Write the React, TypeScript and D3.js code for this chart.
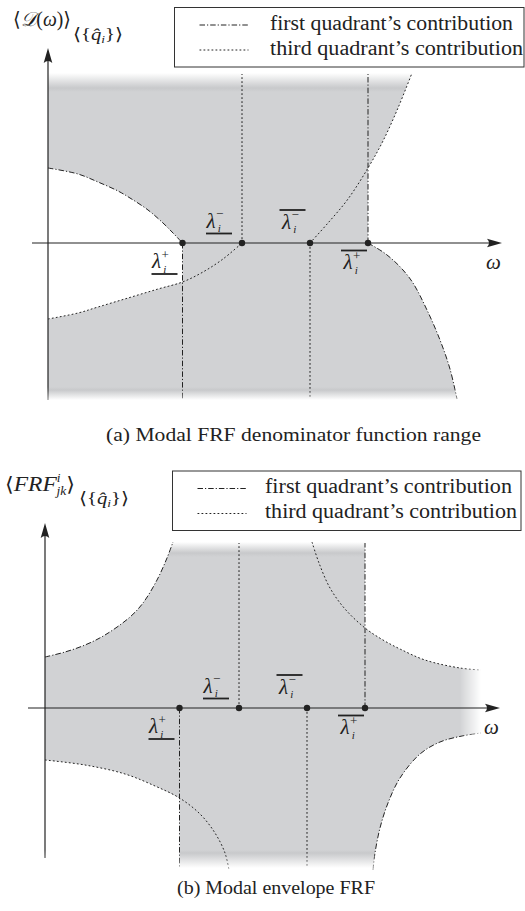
import React from 'react';
import * as d3 from 'd3';

type Pt = [number, number];

const W = 525;
const H = 911;
const UNIT = 10; // pixels per unit on both axes

const GRAY = '#d1d2d4';
const GRAY_EDGE = '#c8c9cb';
const INK = '#222222';
const DASH_DOT = '5.5,2,1.2,2';
const DOTTED = '1.8,2.2';
const TEXT_FONT = "'Liberation Serif', 'DejaVu Serif', serif";
const MATH_FONT = "'Liberation Serif', 'DejaVu Serif', 'DejaVu Sans', serif";
const BRACKET_FONT = "'DejaVu Sans', 'DejaVu Serif', serif";

// Bound eigenvalues on the ω axis: λ_i^+, λ_i^-, overline λ_i^-, overline λ_i^+
const lambdaOmega = [13.45, 19.4, 26.2, 32.0];
const lambdaSigns = ['+', '−', '−', '+'];
const lambdaBars: ('under' | 'over')[] = ['under', 'under', 'over', 'over'];
// vertical bound through each eigenvalue: direction and line type
const lambdaDirs: ('up' | 'down')[] = ['down', 'up', 'down', 'up'];
const lambdaStyles: ('dashDot' | 'dotted')[] = ['dashDot', 'dotted', 'dotted', 'dashDot'];

const legendLabels = ['first quadrant’s contribution', 'third quadrant’s contribution'];
const captions = ['(a) Modal FRF denominator function range', '(b) Modal envelope FRF'];

// (a) denominator range: first quadrant (dash-dot) boundaries
const denomFirstUpper: Pt[] = [[0, 7.5], [3, 6.9], [5, 6.1], [7, 5.2], [8.2, 4.5], [10, 3.3], [11.5, 2.0], [12.5, 1.0], [13.45, 0]];
const denomFirstLower: Pt[] = [[32, 0], [33.5, -0.9], [34.5, -1.7], [35.5, -2.7], [36.5, -4.0], [37.9, -6.7], [39.2, -9.7], [40.2, -12.6], [40.9, -15.6]];
// (a) third quadrant (dotted) boundaries, split where they cross the vertical bounds
const denomThirdLowerA: Pt[] = [[0, -7.6], [3, -7.0], [5, -6.4], [8, -5.5], [11, -4.6], [13.45, -3.9]];
const denomThirdLowerB: Pt[] = [[13.45, -3.9], [15.5, -2.9], [17.5, -1.6], [19.4, 0]];
const denomThirdUpperA: Pt[] = [[26.2, 0], [28, 2.0], [30, 4.4], [32, 7.5]];
const denomThirdUpperB: Pt[] = [[32, 7.5], [33.5, 10.2], [35, 13.5], [36.4, 17.0]];

// (b) envelope FRF: first quadrant (dash-dot) boundaries
const frfFirstUpper: Pt[] = [[0, 5.1], [2, 5.6], [4, 6.3], [6, 7.3], [8.5, 9.1], [9.8, 10.5], [11.2, 12.8], [12.2, 15.0], [12.8, 16.6]];
const frfFirstLower: Pt[] = [[32.8, -16.2], [33.0, -14.5], [33.5, -12.0], [34.3, -9.5], [35.5, -7.0], [37.5, -4.6], [39.5, -3.4], [41.7, -2.8], [43.6, -2.5]];
// (b) third quadrant (dotted) boundaries
const frfThirdUpperA: Pt[] = [[26.7, 16.6], [27.4, 14.5], [28.5, 12.0], [30, 9.9], [32, 8.0]];
const frfThirdUpperB: Pt[] = [[32, 8.0], [33.8, 6.8], [35.5, 5.9], [38, 4.8], [41.5, 4.0], [43.6, 3.8]];
const frfThirdLowerA: Pt[] = [[0, -5.2], [4, -5.7], [8, -6.6], [11, -7.8], [13.45, -9.0]];
const frfThirdLowerB: Pt[] = [[13.45, -9.0], [15.5, -10.6], [17, -12.5], [18, -14.5], [18.4, -16.2]];

const joined = (a: Pt[], b: Pt[]): Pt[] => [...a, ...b.slice(1)];

type Scale = d3.ScaleLinear<number, number>;
type Kit = {
  x: Scale;
  y: Scale;
  line: (p: Pt[]) => string;
  cont: (p: Pt[]) => string;
  to: (p: Pt) => string;
};

type Fill = { top: number; solidTop: number; solidBottom: number; bottom: number; right: number; solidRight?: number };

type PanelProps = {
  id: string;
  ox: number;
  oy: number;
  xTip: number;
  yTip: number;
  xStart: number;
  yAxisEnd: number;
  fill: Fill;
  dashDotCurves: Pt[][];
  dottedCurves: Pt[][];
  holes: (k: Kit) => string[];
};

// label placement relative to each eigenvalue point: [dx of bar start, dy of bar]
const labelOffsets: [number, number][] = [[-31, 31], [-36, -9.5], [-30.5, -33], [-27, 7.5]];

function LambdaLabel({ x, y, sign, bar }: { x: number; y: number; sign: string; bar: 'under' | 'over' }) {
  const base = bar === 'under' ? y - 6 : y + 18.5;
  const gx = bar === 'under' ? x + 0.5 : x + 2.5;
  return (
    <g fill={INK}>
      <rect x={x} y={y - 0.9} width={26} height={1.8} />
      <text x={gx} y={base} fontFamily={MATH_FONT} fontSize={21}>
        <tspan fontStyle="italic">λ</tspan>
        <tspan fontSize={13} dx={0.5} dy={-9.5}>
          {sign}
        </tspan>
        <tspan fontSize={11} fontStyle="italic" dx={-5.8} dy={14}>
          i
        </tspan>
      </text>
    </g>
  );
}

function Panel(p: PanelProps) {
  const x = d3.scaleLinear().domain([0, p.xTip]).range([p.ox, p.ox + p.xTip * UNIT]);
  const y = d3.scaleLinear().domain([0, p.yTip]).range([p.oy, p.oy - p.yTip * UNIT]);
  const gen = d3
    .line<Pt>()
    .x((d) => x(d[0]))
    .y((d) => y(d[1]))
    .curve(d3.curveCatmullRom.alpha(0.5));
  const kit: Kit = {
    x,
    y,
    line: (pts) => gen(pts) || '',
    cont: (pts) => 'L' + (gen(pts) || '').slice(1),
    to: (pt) => `L${x(pt[0])},${y(pt[1])}`,
  };
  const f = p.fill;
  const yTopPx = y(f.top);
  const yBotPx = y(f.bottom);
  const off = (v: number) => (y(v) - yTopPx) / (yBotPx - yTopPx);
  const edgeTop = off(f.solidTop + 0.4);
  const hasRight = f.solidRight !== undefined;

  const xTipPx = x(p.xTip);
  const yTipPx = y(p.yTip);
  const x0 = x(0);
  const y0 = y(0);

  const lines = (
    <g fill="none" stroke={INK} strokeWidth={1}>
      {/* vertical bounds through the eigenvalues */}
      {lambdaOmega.map((w, i) => (
        <line
          key={i}
          x1={x(w)}
          x2={x(w)}
          y1={y0}
          y2={lambdaDirs[i] === 'up' ? yTopPx + 1 : yBotPx - 1}
          strokeDasharray={lambdaStyles[i] === 'dashDot' ? DASH_DOT : DOTTED}
        />
      ))}
      {p.dashDotCurves.map((c, i) => (
        <path key={`dd${i}`} d={kit.line(c)} strokeDasharray={DASH_DOT} />
      ))}
      {p.dottedCurves.map((c, i) => (
        <path key={`dt${i}`} d={kit.line(c)} strokeDasharray={DOTTED} />
      ))}
      {/* ordinate axis */}
      <line x1={x0} x2={x0} y1={yTipPx + 8} y2={y(p.yAxisEnd)} strokeWidth={1.2} />
    </g>
  );

  return (
    <g>
      <defs>
        <linearGradient id={`${p.id}-fill`} gradientUnits="userSpaceOnUse" x1={0} x2={0} y1={yTopPx} y2={yBotPx}>
          <stop offset={0} stopColor="#ffffff" />
          <stop offset={edgeTop} stopColor={GRAY_EDGE} />
          <stop offset={off(f.solidTop)} stopColor={GRAY} />
          <stop offset={off(f.solidBottom)} stopColor={GRAY} />
          <stop offset={off(f.solidBottom - 0.3)} stopColor={GRAY_EDGE} />
          <stop offset={1} stopColor="#ffffff" />
        </linearGradient>
        <linearGradient id={`${p.id}-fade`} gradientUnits="userSpaceOnUse" x1={0} x2={0} y1={y(f.solidBottom)} y2={y(f.bottom)}>
          <stop offset={0} stopColor="#ffffff" />
          <stop offset={1} stopColor="#777777" />
        </linearGradient>
        <mask id={`${p.id}-mask`} maskUnits="userSpaceOnUse" x={0} y={0} width={W} height={H}>
          <rect x={0} y={0} width={W} height={H} fill={`url(#${p.id}-fade)`} />
        </mask>
        {hasRight && (
          <>
            <linearGradient id={`${p.id}-hfill`} gradientUnits="userSpaceOnUse" x1={x(f.solidRight as number)} x2={x(f.right)} y1={0} y2={0}>
              <stop offset={0} stopColor="#ffffff" />
              <stop offset={0.1} stopColor="#e0e0e0" />
              <stop offset={1} stopColor="#000000" />
            </linearGradient>
            <mask id={`${p.id}-hmask`} maskUnits="userSpaceOnUse" x={0} y={0} width={W} height={H}>
              <rect x={0} y={0} width={W} height={H} fill={`url(#${p.id}-hfill)`} />
            </mask>
            <linearGradient id={`${p.id}-hline`} gradientUnits="userSpaceOnUse" x1={x(f.solidRight as number)} x2={x(f.right)} y1={0} y2={0}>
              <stop offset={0} stopColor="#ffffff" />
              <stop offset={1} stopColor="#555555" />
            </linearGradient>
            <mask id={`${p.id}-hlmask`} maskUnits="userSpaceOnUse" x={0} y={0} width={W} height={H}>
              <rect x={0} y={0} width={W} height={H} fill={`url(#${p.id}-hline)`} />
            </mask>
          </>
        )}
      </defs>

      {/* range area */}
      <g mask={hasRight ? `url(#${p.id}-hmask)` : undefined}>
        <rect x={x0} y={yTopPx} width={x(f.right) - x0} height={yBotPx - yTopPx} fill={`url(#${p.id}-fill)`} />
        {p.holes(kit).map((d, i) => (
          <path key={i} d={d} fill="#ffffff" />
        ))}
      </g>

      <g mask={`url(#${p.id}-mask)`}>
        {hasRight ? <g mask={`url(#${p.id}-hlmask)`}>{lines}</g> : lines}
      </g>

      {/* abscissa axis */}
      <line x1={x(p.xStart)} x2={xTipPx - 8} y1={y0} y2={y0} stroke={INK} strokeWidth={1.2} />
      <path d={`M${xTipPx},${y0} L${xTipPx - 15},${y0 - 4.3} Q${xTipPx - 11},${y0} ${xTipPx - 15},${y0 + 4.3} Z`} fill={INK} />
      <path d={`M${x0},${yTipPx} L${x0 - 4.3},${yTipPx + 15} Q${x0},${yTipPx + 11} ${x0 + 4.3},${yTipPx + 15} Z`} fill={INK} />

      {lambdaOmega.map((w, i) => (
        <circle key={i} cx={x(w)} cy={y0} r={3.2} fill={INK} />
      ))}
      {lambdaOmega.map((w, i) => (
        <LambdaLabel key={i} x={x(w) + labelOffsets[i][0]} y={y0 + labelOffsets[i][1]} sign={lambdaSigns[i]} bar={lambdaBars[i]} />
      ))}
      <text x={xTipPx - 16} y={y0 + 26} fontFamily={MATH_FONT} fontStyle="italic" fontSize={21} fill={INK}>
        ω
      </text>
    </g>
  );
}

function Legend({ x, y, right, textX, lens }: { x: number; y: number; right: number; textX: number; lens: number[] }) {
  return (
    <g>
      <rect x={x} y={y} width={right - x} height={59.5} fill="#ffffff" stroke="#333333" strokeWidth={1} />
      {legendLabels.map((t, i) => {
        const ly = y + 17.5 + i * 25;
        return (
          <g key={i}>
            <line x1={x + 25} x2={x + 74} y1={ly} y2={ly} stroke={INK} strokeWidth={1} strokeDasharray={i === 0 ? DASH_DOT : DOTTED} />
            <text x={textX} y={ly + 4.5} fontFamily={TEXT_FONT} fontSize={20} fill={INK} textLength={lens[i]} lengthAdjust="spacingAndGlyphs">
              {t}
            </text>
          </g>
        );
      })}
    </g>
  );
}

// ⟨{q̂_i}⟩ index set written as a subscript
function IndexSet({ x, y, len }: { x: number; y: number; len: number }) {
  return (
    <text x={x} y={y} fontFamily={MATH_FONT} fontSize={17} fill={INK} textLength={len} lengthAdjust="spacingAndGlyphs">
      <tspan fontFamily={BRACKET_FONT} fontSize={17}>⟨</tspan>
      <tspan>{'{'}</tspan>
      <tspan fontStyle="italic">q̂</tspan>
      <tspan fontStyle="italic" fontSize={11} dy={3}>
        i
      </tspan>
      <tspan dy={-3}>{'}'}</tspan>
      <tspan fontFamily={BRACKET_FONT} fontSize={17}>⟩</tspan>
    </text>
  );
}

export default function App() {
  const holesA = (k: Kit) => [
    // region between the two contributions left of λ_i^+
    k.line(denomFirstUpper) + k.cont([...denomThirdLowerA].reverse()) + 'Z',
    // outside the range on the right
    k.line(denomThirdUpperB) +
      k.to([36.4, 18.5]) +
      k.to([50, 18.5]) +
      k.to([50, -17]) +
      k.to([40.9, -17]) +
      k.cont([...denomFirstLower].reverse()) +
      'Z',
  ];
  const holesB = (k: Kit) => [
    k.line(frfFirstUpper) + k.to([12.8, 18]) + k.to([0, 18]) + 'Z',
    k.line(frfThirdUpperB) + k.to([47, 3.8]) + k.to([47, 18]) + k.to([32, 18]) + 'Z',
    k.line(frfFirstLower) + k.to([47, -2.5]) + k.to([47, -17.5]) + k.to([32.8, -17.5]) + 'Z',
    k.line(frfThirdLowerA) + k.to([13.45, -17.5]) + k.to([0, -17.5]) + 'Z',
  ];

  return (
    <svg width={W} height={H} viewBox={`0 0 ${W} ${H}`} style={{ position: 'absolute', left: 0, top: 0, display: 'block' }}>
      <rect x={0} y={0} width={W} height={H} fill="#ffffff" />

      <Panel
        id="pa"
        ox={48}
        oy={243}
        xTip={45.4}
        yTip={19.5}
        xStart={-1.6}
        yAxisEnd={-15.7}
        fill={{ top: 17.0, solidTop: 15.1, solidBottom: -14.4, bottom: -15.7, right: 45 }}
        dashDotCurves={[denomFirstUpper, denomFirstLower]}
        dottedCurves={[joined(denomThirdLowerA, denomThirdLowerB), joined(denomThirdUpperA, denomThirdUpperB)]}
        holes={holesA}
      />
      <Panel
        id="pb"
        ox={45}
        oy={708}
        xTip={45.5}
        yTip={18.5}
        xStart={-1.7}
        yAxisEnd={-15.0}
        fill={{ top: 16.6, solidTop: 15.1, solidBottom: -14.2, bottom: -16.0, right: 43.6, solidRight: 41.5 }}
        dashDotCurves={[frfFirstUpper, frfFirstLower]}
        dottedCurves={[joined(frfThirdUpperA, frfThirdUpperB), joined(frfThirdLowerA, frfThirdLowerB)]}
        holes={holesB}
      />

      {/* ordinate titles */}
      <text x={13} y={26} fontFamily={MATH_FONT} fontSize={20} fill={INK} textLength={58} lengthAdjust="spacingAndGlyphs">
        <tspan fontFamily={BRACKET_FONT}>⟨</tspan>
        <tspan fontFamily="'DejaVu Serif', 'DejaVu Sans', serif" fontStyle="italic" fontSize={20}>𝒟</tspan>
        <tspan>(</tspan>
        <tspan fontStyle="italic">ω</tspan>
        <tspan>)</tspan>
        <tspan fontFamily={BRACKET_FONT}>⟩</tspan>
      </text>
      <IndexSet x={73} y={40} len={50} />

      <text x={5} y={491} fontFamily={MATH_FONT} fontSize={21} fill={INK} textLength={70} lengthAdjust="spacingAndGlyphs">
        <tspan fontFamily={BRACKET_FONT} fontSize={20}>⟨</tspan>
        <tspan fontStyle="italic">FRF</tspan>
        <tspan fontStyle="italic" fontSize={12} dy={-9}>
          i
        </tspan>
        <tspan fontStyle="italic" fontSize={12} dx={-3.5} dy={13}>
          jk
        </tspan>
        <tspan fontFamily={BRACKET_FONT} fontSize={20} dy={-4}>
          ⟩
        </tspan>
      </text>
      <IndexSet x={79} y={504} len={50} />

      <Legend x={174.5} y={7.5} right={524} textX={270} lens={[243, 253]} />
      <Legend x={172.5} y={471} right={521} textX={265} lens={[247, 252]} />

      <text x={106} y={441} fontFamily={TEXT_FONT} fontSize={19} fill={INK} textLength={375} lengthAdjust="spacingAndGlyphs">
        {captions[0]}
      </text>
      <text x={177} y={894} fontFamily={TEXT_FONT} fontSize={19} fill={INK} textLength={198} lengthAdjust="spacingAndGlyphs">
        {captions[1]}
      </text>
    </svg>
  );
}
